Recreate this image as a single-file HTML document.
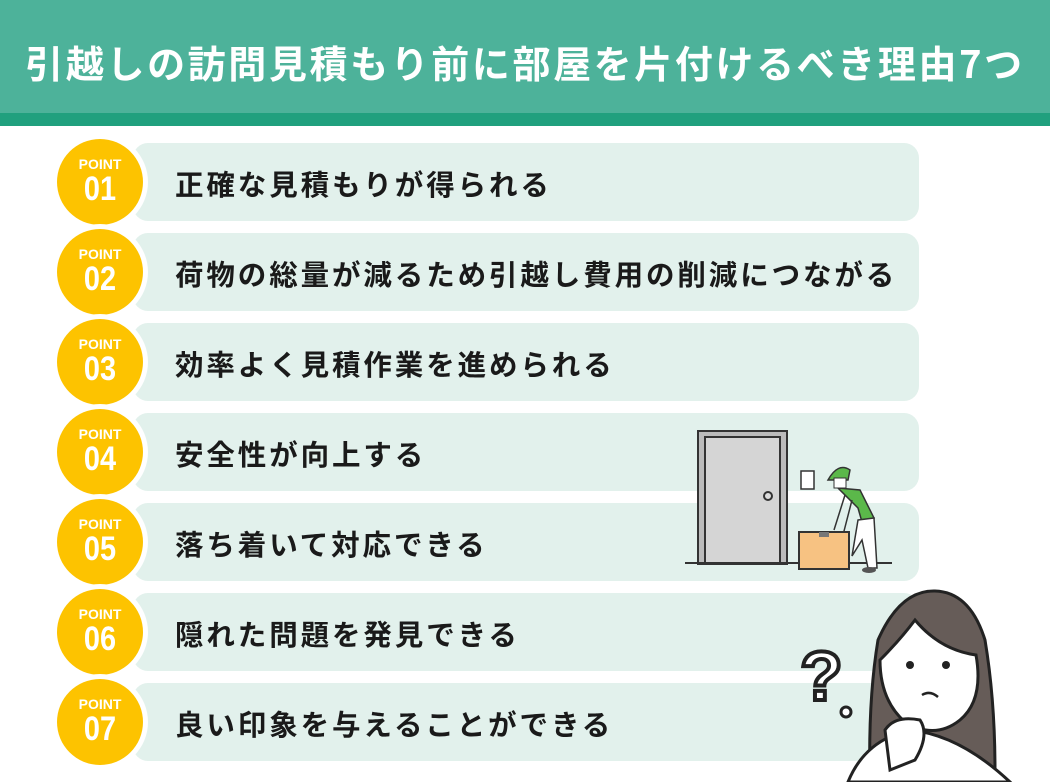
<!DOCTYPE html>
<html><head><meta charset="utf-8"><style>
body{margin:0;width:1050px;height:782px;background:#fff;position:relative;overflow:hidden;font-family:"Liberation Sans","Noto Sans CJK JP",sans-serif}
.hd{position:absolute;left:0;top:0;width:1050px;height:113px;background:#4db29a}
.st{position:absolute;left:0;top:113px;width:1050px;height:13px;background:#20a07e}
.tt{position:absolute;left:0;top:0;width:1050px;height:126px;line-height:124px;text-align:center;color:#fff;font-size:38px;font-weight:bold;letter-spacing:2.6px;font-family:"Noto Sans CJK JP",sans-serif}
.bar{position:absolute;left:133px;width:786px;height:78px;background:#e2f1ec;border-radius:15px}
.bar span{position:absolute;left:42px;top:2px;line-height:78px;font-size:28.5px;font-weight:bold;color:#1a1a1a;font-family:"Noto Sans CJK JP",sans-serif;letter-spacing:2.9px;white-space:nowrap}
.c{position:absolute;left:57px;width:86px;height:86px;border-radius:50%;background:#fdc300;box-shadow:0 0 0 5px #fff;color:#fff;text-align:center;font-weight:bold}
.c b{display:block;font-size:14px;margin-top:18px;line-height:15px}
.c i{display:block;font-style:normal;font-size:34px;line-height:34px;transform:scaleX(.85)}
</style></head><body>
<div class="hd"></div><div class="st"></div>
<div class="tt">引越しの訪問見積もり前に部屋を片付けるべき理由7つ</div>

<div class="bar" style="top:143px"><span>正確な見積もりが得られる</span></div>
<div class="bar" style="top:233px"><span>荷物の総量が減るため引越し費用の削減につながる</span></div>
<div class="bar" style="top:323px"><span>効率よく見積作業を進められる</span></div>
<div class="bar" style="top:413px"><span>安全性が向上する</span></div>
<div class="bar" style="top:503px"><span>落ち着いて対応できる</span></div>
<div class="bar" style="top:593px"><span>隠れた問題を発見できる</span></div>
<div class="bar" style="top:683px"><span>良い印象を与えることができる</span></div>

<div class="c" style="top:139px"><b>POINT</b><i>01</i></div>
<div class="c" style="top:229px"><b>POINT</b><i>02</i></div>
<div class="c" style="top:319px"><b>POINT</b><i>03</i></div>
<div class="c" style="top:409px"><b>POINT</b><i>04</i></div>
<div class="c" style="top:499px"><b>POINT</b><i>05</i></div>
<div class="c" style="top:589px"><b>POINT</b><i>06</i></div>
<div class="c" style="top:679px"><b>POINT</b><i>07</i></div>

<svg width="1050" height="782" style="position:absolute;left:0;top:0">
<rect x="698" y="431" width="89" height="133" fill="#bbb" stroke="#333" stroke-width="2"/>
<rect x="705" y="437" width="75" height="127" fill="#d5d5d5" stroke="#333" stroke-width="2"/>
<circle cx="768" cy="496" r="4" fill="#ddd" stroke="#333" stroke-width="2"/>
<rect x="801" y="471" width="13" height="18" fill="#fff" stroke="#333" stroke-width="1.5"/>
<line x1="685" y1="563" x2="892" y2="563" stroke="#333" stroke-width="2"/>
<path d="M838 488 L860 490 L874 518 L862 522 L858 508 Z" fill="#5bb84a" stroke="#333" stroke-width="1.5"/>
<path d="M858 520 L874 518 L877 568 L868 568 L862 540 L852 556 Z" fill="#fff" stroke="#333" stroke-width="1.5"/>
<ellipse cx="869" cy="570" rx="7" ry="3" fill="#555"/>
<path d="M828 480 Q838 462 850 470 L848 480 Z" fill="#5bb84a" stroke="#333" stroke-width="1.5"/>
<rect x="834" y="478" width="12" height="10" fill="#fff" stroke="#333" stroke-width="1"/>
<path d="M845 495 L834 530 M852 500 L843 535" stroke="#333" stroke-width="1.5" fill="none"/>
<rect x="799" y="532" width="50" height="37" fill="#f7c282" stroke="#333" stroke-width="2"/>
<rect x="819" y="532" width="10" height="5" fill="#777"/>
<text x="800" y="700" font-size="70" font-weight="bold" fill="#fff" stroke="#222" stroke-width="4" font-family="Liberation Sans,sans-serif">?</text>
<circle cx="846" cy="712" r="5" fill="#fff" stroke="#222" stroke-width="3"/>
<path d="M870 782 Q868 700 878 640 Q900 590 935 591 Q970 592 985 640 Q995 700 995 770 L870 782 Z" fill="#665c58" stroke="#222" stroke-width="3"/>
<path d="M880 660 Q900 640 915 620 Q940 650 976 655 Q984 700 960 720 Q935 740 905 722 Q880 700 880 660 Z" fill="#fff" stroke="#222" stroke-width="3"/>
<circle cx="910" cy="665" r="4" fill="#222"/><circle cx="946" cy="665" r="4" fill="#222"/>
<path d="M922 695 Q930 690 938 697" stroke="#222" stroke-width="2.5" fill="none"/>
<path d="M848 782 Q865 740 910 730 Q960 735 1010 782 Z" fill="#fff" stroke="#222" stroke-width="3"/>
<path d="M890 770 L885 730 Q895 715 920 720 Q930 735 915 760 Z" fill="#fff" stroke="#222" stroke-width="3"/>
</svg>
</body></html>
